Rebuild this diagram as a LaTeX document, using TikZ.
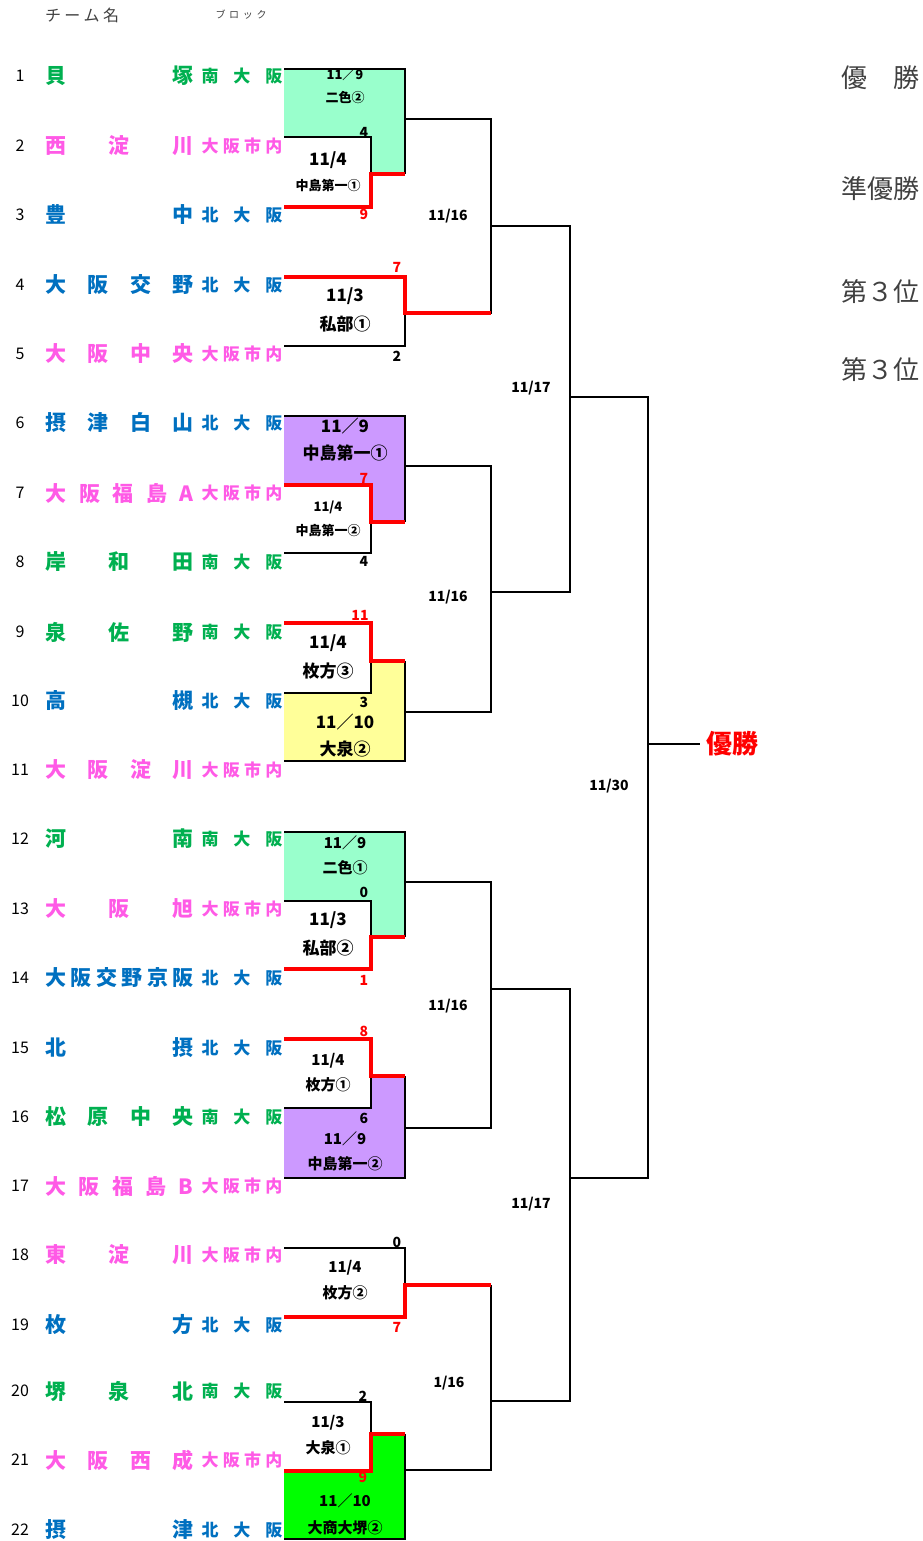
\documentclass[tikz,border=0pt]{standalone}
\usepackage{fontspec}
\setmainfont{Noto Sans CJK JP}
\usepackage{xcolor}
\usepackage{tikz}
\definecolor{tgreen}{HTML}{00B050}
\definecolor{tpink}{HTML}{FF5AE6}
\definecolor{tblue}{HTML}{0070C0}
\definecolor{mint}{HTML}{99FFCC}
\definecolor{lilac}{HTML}{CC99FF}
\definecolor{lemon}{HTML}{FFFF99}
\definecolor{lime}{HTML}{00FF00}
\definecolor{hdr}{HTML}{404040}
\newcommand{\tname}[1]{\makebox[148pt]{#1}}
\newcommand{\minami}{\makebox[81pt]{南\hfill 大\hfill 阪}}
\newcommand{\kita}{\makebox[81pt]{北\hfill 大\hfill 阪}}
\newcommand{\shinai}{\makebox[81pt]{大\hfill 阪\hfill 市\hfill 内}}

\begin{document}
\begin{tikzpicture}[x=1pt, y=-1pt,
  num/.style={font=\fontsize{16}{16}\selectfont, inner sep=0},
  team/.style={font=\fontsize{21}{21}\selectfont\bfseries, inner sep=0},
  blk/.style={font=\fontsize{17}{17}\selectfont\bfseries, inner sep=0},
  ln/.style={line width=2pt, black},
  win/.style={line width=3.8pt, red, line join=miter},
  score/.style={font=\fontsize{14}{14}\selectfont\bfseries, inner sep=0},
  datesm/.style={font=\fontsize{13}{13}\selectfont\bfseries, inner sep=0},
  datemd/.style={font=\fontsize{15}{15}\selectfont\bfseries, inner sep=0},
  datelg/.style={font=\fontsize{17}{17}\selectfont\bfseries, inner sep=0},
  rnd/.style={font=\fontsize{14}{14}\selectfont\bfseries, inner sep=0},
  place/.style={font=\fontsize{26}{26}\selectfont, text=hdr, anchor=west, inner sep=0}]
\useasboundingbox (0,0) rectangle (922,1541);
% header
\node[font=\fontsize{16}{16}\selectfont, text=hdr, inner sep=0] (h1) at (82,15) {\makebox[74pt]{チ\hfill ー\hfill ム\hfill 名}};
\node[font=\fontsize{10}{10}\selectfont, text=hdr, inner sep=0] (h2) at (241,15) {\makebox[51pt]{ブ\hfill ロ\hfill ッ\hfill ク}};
% teams
\node[num] (n1) at (20,76) {1};
\node[team, text=tgreen] (t1) at (119.5,76) {\tname{貝\hfill 塚}};
\node[blk, text=tgreen] (k1) at (242,76) {\minami};
\node[num] (n2) at (20,146) {2};
\node[team, text=tpink] (t2) at (119.5,146) {\tname{西\hfill 淀\hfill 川}};
\node[blk, text=tpink] (k2) at (242,146) {\shinai};
\node[num] (n3) at (20,215) {3};
\node[team, text=tblue] (t3) at (119.5,215) {\tname{豊\hfill 中}};
\node[blk, text=tblue] (k3) at (242,215) {\kita};
\node[num] (n4) at (20,285) {4};
\node[team, text=tblue] (t4) at (119.5,285) {\tname{大\hfill 阪\hfill 交\hfill 野}};
\node[blk, text=tblue] (k4) at (242,285) {\kita};
\node[num] (n5) at (20,354) {5};
\node[team, text=tpink] (t5) at (119.5,354) {\tname{大\hfill 阪\hfill 中\hfill 央}};
\node[blk, text=tpink] (k5) at (242,354) {\shinai};
\node[num] (n6) at (20,423) {6};
\node[team, text=tblue] (t6) at (119.5,423) {\tname{摂\hfill 津\hfill 白\hfill 山}};
\node[blk, text=tblue] (k6) at (242,423) {\kita};
\node[num] (n7) at (20,493) {7};
\node[team, text=tpink] (t7) at (119.5,493) {\tname{大\hfill 阪\hfill 福\hfill 島\hfill A}};
\node[blk, text=tpink] (k7) at (242,493) {\shinai};
\node[num] (n8) at (20,562) {8};
\node[team, text=tgreen] (t8) at (119.5,562) {\tname{岸\hfill 和\hfill 田}};
\node[blk, text=tgreen] (k8) at (242,562) {\minami};
\node[num] (n9) at (20,632) {9};
\node[team, text=tgreen] (t9) at (119.5,632) {\tname{泉\hfill 佐\hfill 野}};
\node[blk, text=tgreen] (k9) at (242,632) {\minami};
\node[num] (n10) at (20,701) {10};
\node[team, text=tblue] (t10) at (119.5,701) {\tname{高\hfill 槻}};
\node[blk, text=tblue] (k10) at (242,701) {\kita};
\node[num] (n11) at (20,770) {11};
\node[team, text=tpink] (t11) at (119.5,770) {\tname{大\hfill 阪\hfill 淀\hfill 川}};
\node[blk, text=tpink] (k11) at (242,770) {\shinai};
\node[num] (n12) at (20,839) {12};
\node[team, text=tgreen] (t12) at (119.5,839) {\tname{河\hfill 南}};
\node[blk, text=tgreen] (k12) at (242,839) {\minami};
\node[num] (n13) at (20,909) {13};
\node[team, text=tpink] (t13) at (119.5,909) {\tname{大\hfill 阪\hfill 旭}};
\node[blk, text=tpink] (k13) at (242,909) {\shinai};
\node[num] (n14) at (20,978) {14};
\node[team, text=tblue] (t14) at (119.5,978) {\tname{大\hfill 阪\hfill 交\hfill 野\hfill 京\hfill 阪}};
\node[blk, text=tblue] (k14) at (242,978) {\kita};
\node[num] (n15) at (20,1048) {15};
\node[team, text=tblue] (t15) at (119.5,1048) {\tname{北\hfill 摂}};
\node[blk, text=tblue] (k15) at (242,1048) {\kita};
\node[num] (n16) at (20,1117) {16};
\node[team, text=tgreen] (t16) at (119.5,1117) {\tname{松\hfill 原\hfill 中\hfill 央}};
\node[blk, text=tgreen] (k16) at (242,1117) {\minami};
\node[num] (n17) at (20,1186) {17};
\node[team, text=tpink] (t17) at (119.5,1186) {\tname{大\hfill 阪\hfill 福\hfill 島\hfill B}};
\node[blk, text=tpink] (k17) at (242,1186) {\shinai};
\node[num] (n18) at (20,1255) {18};
\node[team, text=tpink] (t18) at (119.5,1255) {\tname{東\hfill 淀\hfill 川}};
\node[blk, text=tpink] (k18) at (242,1255) {\shinai};
\node[num] (n19) at (20,1325) {19};
\node[team, text=tblue] (t19) at (119.5,1325) {\tname{枚\hfill 方}};
\node[blk, text=tblue] (k19) at (242,1325) {\kita};
\node[num] (n20) at (20,1391) {20};
\node[team, text=tgreen] (t20) at (119.5,1391) {\tname{堺\hfill 泉\hfill 北}};
\node[blk, text=tgreen] (k20) at (242,1391) {\minami};
\node[num] (n21) at (20,1460) {21};
\node[team, text=tpink] (t21) at (119.5,1460) {\tname{大\hfill 阪\hfill 西\hfill 成}};
\node[blk, text=tpink] (k21) at (242,1460) {\shinai};
\node[num] (n22) at (20,1530) {22};
\node[team, text=tblue] (t22) at (119.5,1530) {\tname{摂\hfill 津}};
\node[blk, text=tblue] (k22) at (242,1530) {\kita};
% bracket points
\coordinate (e1) at (284,69);   \coordinate (e2) at (284,137);
\coordinate (e3) at (284,207);  \coordinate (e4) at (284,277);
\coordinate (e5) at (284,346);  \coordinate (e6) at (284,416);
\coordinate (e7) at (284,485);  \coordinate (e8) at (284,553);
\coordinate (e9) at (284,623);  \coordinate (e10) at (284,693);
\coordinate (e11) at (284,761); \coordinate (e12) at (284,832);
\coordinate (e13) at (284,901); \coordinate (e14) at (284,969);
\coordinate (e15) at (284,1039);\coordinate (e16) at (284,1108);
\coordinate (e17) at (284,1178);\coordinate (e18) at (284,1248);
\coordinate (e19) at (284,1317);\coordinate (e20) at (284,1402);
\coordinate (e21) at (284,1471);\coordinate (e22) at (284,1539);
\coordinate (a23) at (371,174);  \coordinate (s1) at (405,174);
\coordinate (a45) at (405,313);
\coordinate (a78) at (371,522);  \coordinate (s6) at (405,522);
\coordinate (a910) at (371,661); \coordinate (s11) at (405,661);
\coordinate (a1314) at (371,937);\coordinate (s12) at (405,937);
\coordinate (a1516) at (371,1076);\coordinate (s17) at (405,1076);
\coordinate (a1819) at (405,1285);
\coordinate (a2021) at (371,1434);\coordinate (s22) at (405,1434);
\coordinate (o1) at (405,119);   \coordinate (o6) at (405,466);
\coordinate (o11) at (405,712);  \coordinate (o12) at (405,882);
\coordinate (o17) at (405,1128); \coordinate (o22) at (405,1470);
\coordinate (q1) at (491,226);   \coordinate (q2) at (491,592);
\coordinate (q3) at (491,989);   \coordinate (q4) at (491,1401);
\coordinate (r1) at (570,397);   \coordinate (r2) at (570,1178);
\coordinate (f) at (648,744);
% pending boxes
\fill[mint] (e1) -| (s1) -| (a23) |- (e2) -- cycle;
\fill[lilac] (e6) -| (s6) -| (a78) |- (e7) -- cycle;
\fill[lemon] (e11) -| (s11) -| (a910) |- (e10) -- cycle;
\fill[mint] (e12) -| (s12) -| (a1314) |- (e13) -- cycle;
\fill[lilac] (e17) -| (s17) -| (a1516) |- (e16) -- cycle;
\fill[lime] (e22) -| (s22) -| (a2021) |- (e21) -- cycle;
% black lines
\draw[ln] (e1) -| (s1);
\draw[ln] (e2) -| (a23);
\draw[ln] (e5) -| (a45);
\draw[ln] (o1) -| (q1) |- (a45);
\draw[ln] (e6) -| (s6);
\draw[ln] (e8) -| (a78);
\draw[ln] (e10) -| (a910);
\draw[ln] (e11) -| (s11);
\draw[ln] (o6) -| (q2) |- (o11);
\draw[ln] (q1) -| (r1) |- (q2);
\draw[ln] (e12) -| (s12);
\draw[ln] (e13) -| (a1314);
\draw[ln] (e16) -| (a1516);
\draw[ln] (e17) -| (s17);
\draw[ln] (o12) -| (q3) |- (o17);
\draw[ln] (e18) -| (a1819);
\draw[ln] (e20) -| (a2021);
\draw[ln] (e22) -| (s22);
\draw[ln] (a1819 -| q4) |- (o22);
\draw[ln] (q3) -| (r2) |- (q4);
\draw[ln] (r1) -| (f) |- (r2);
% winners
\draw[win] (e3) -| (a23) -- (s1);
\draw[win] (e4) -| (a45) -- (a45 -| q1);
\draw[win] (e7) -| (a78) -- (s6);
\draw[win] (e9) -| (a910) -- (s11);
\draw[win] (e14) -| (a1314) -- (s12);
\draw[win] (e15) -| (a1516) -- (s17);
\draw[win] (e19) -| (a1819) -- (a1819 -| q4);
\draw[win] (e21) -| (a2021) -- (s22);
% champion
\node[font=\fontsize{26}{26}\selectfont\bfseries, text=red, anchor=west, inner sep=0] (champ) at (706,744) {優勝};
\draw[ln, shorten >=6pt] (f) -- (champ.west);
% scores
\node[score] (p2) at (364,132) {4};
\node[score, text=red] (p3) at (364,214) {9};
\node[score, text=red] (p4) at (397,267) {7};
\node[score] (p5) at (397,356) {2};
\node[score, text=red] (p7) at (364,478) {7};
\node[score] (p8) at (364,561) {4};
\node[score, text=red] (p9) at (360,615) {11};
\node[score] (p10) at (364,702) {3};
\node[score] (p13) at (364,892) {0};
\node[score, text=red] (p14) at (364,980) {1};
\node[score, text=red] (p15) at (364,1031) {8};
\node[score] (p16) at (364,1118) {6};
\node[score] (p18) at (397,1242) {0};
\node[score, text=red] (p19) at (397,1327) {7};
\node[score] (p20) at (363,1396) {2};
\node[score, text=red] (p21) at (363,1477) {9};
% match dates and grounds
\node[datesm] (d1) at (345,75) {11／9};
\node[datesm] (g1) at (345,98) {二色②};
\node[datelg] (d2) at (328,160) {11/4};
\node[datesm] (g2) at (328,186) {中島第一①};
\node[datelg] (d3) at (345,296) {11/3};
\node[datelg] (g3) at (345,324) {私部①};
\node[datelg] (d4) at (345,426) {11／9};
\node[datelg] (g4) at (345,453) {中島第一①};
\node[datesm] (d5) at (328,507) {11/4};
\node[datesm] (g5) at (328,530) {中島第一②};
\node[datelg] (d6) at (328,643) {11/4};
\node[datelg] (g6) at (328,671) {枚方③};
\node[datelg] (d7) at (345,722) {11／10};
\node[datelg] (g7) at (345,749) {大泉②};
\node[datemd] (d8) at (345,843) {11／9};
\node[datemd] (g8) at (345,868) {二色①};
\node[datelg] (d9) at (328,920) {11/3};
\node[datelg] (g9) at (328,948) {私部②};
\node[datemd] (d10) at (328,1061) {11/4};
\node[datemd] (g10) at (328,1085) {枚方①};
\node[datemd] (d11) at (345,1139) {11／9};
\node[datemd] (g11) at (345,1164) {中島第一②};
\node[datemd] (d12) at (345,1268) {11/4};
\node[datemd] (g12) at (345,1293) {枚方②};
\node[datemd] (d13) at (328,1423) {11/3};
\node[datemd] (g13) at (328,1448) {大泉①};
\node[datemd] (d14) at (345,1501) {11／10};
\node[datemd] (g14) at (345,1528) {大商大堺②};
% round dates
\node[rnd] (w1) at (448,216) {11/16};
\node[rnd] (w2) at (448,597) {11/16};
\node[rnd] (w3) at (448,1006) {11/16};
\node[rnd] (w4) at (449,1383) {1/16};
\node[rnd] (w5) at (531,388) {11/17};
\node[rnd] (w6) at (531,1204) {11/17};
\node[rnd] (w7) at (609,786) {11/30};
% places
\node[place] (u1) at (841,78) {優　勝};
\node[place] (u2) at (841,189) {準優勝};
\node[place] (u3) at (841,292) {第３位};
\node[place] (u4) at (841,370) {第３位};
\end{tikzpicture}
\end{document}
